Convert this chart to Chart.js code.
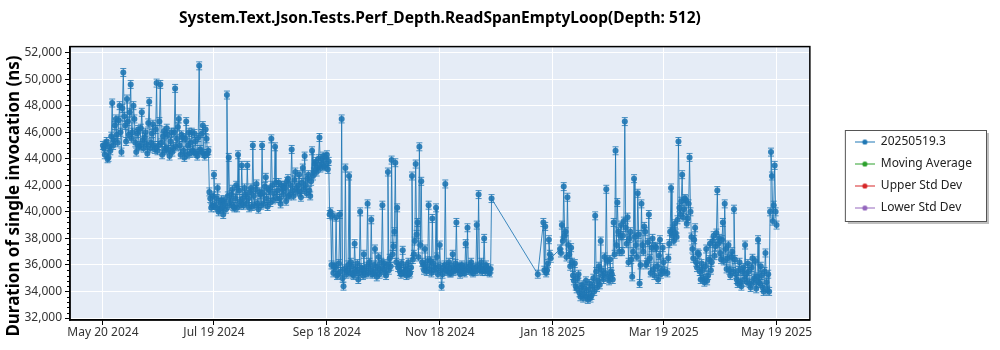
<!DOCTYPE html>
<html>
<head>
<meta charset="utf-8">
<script src="https://cdn.jsdelivr.net/npm/chart.js@4.4.1/dist/chart.umd.min.js"></script>
<style>
  html, body { margin: 0; padding: 0; background: #fff; }
  #wrap { width: 1000px; height: 350px; }
</style>
</head>
<body>
<div id="wrap"><canvas id="chart1"></canvas></div>
<script>
const chartTitle = 'System.Text.Json.Tests.Perf_Depth.ReadSpanEmptyLoop(Depth: 512)';
const yTitle = 'Duration of single invocation (ns)';

// first run of each day, day 0 = May 20 2024 (null = no run that day)
const durations = [
  // day 0
  45000, 44300, 45300, 44100, 44600, 48200, 45400, 47000, 45200, 48000,
  44500, 50500, 46500, 48500, 45800, 49600, 46000, 47000, 44500, 46200,
  45000, 47500, 44800, 46000, 44400, 48300, 45200, 46600, 44700, 49700,
  45000, 49600, 44300, 46100, 44800, 45800, 44200, 46000, 44800, 49300,
  45500, 47000, 44300, 45600, 44100, 46800, 45000, 44400, 46000, 44500,
  // day 50
  45300, 44200, 51000, 44500, 46500, 44200, 45500, 44600, 41000, 40500,
  42800, 40300, 41800, 40200, 40900, 39800, 40600, 48800, 44100, 40800,
  41700, 40300, 42000, 44300, 40800, 43500, 40500, 41300, 43500, 40300,
  41800, 45000, 40500, 42100, 40200, 41300, 45000, 40600, 42600, 40400,
  41600, 45500, 40900, 44900, 41000, 42200, 40600, 41700, 42000, 40800,
  // day 100
  42500, 41300, 44700, 41200, 43000, 41500, 42800, 41100, 43300, 44200,
  41400, 42800, 41200, 44600, 43000, 43800, 43300, 45600, 43600, 44200,
  43500, 44300, 43800, 40000, 39700, 35900, 39600, 35300, 39800, 47000,
  34400, 43300, 35600, 42700, 36200, 35300, 37600, 35500, 34900, 40000,
  35600, 36800, 35300, 40600, 36200, 39400, 35400, 37200, 35100, 36600,
  // day 150
  35600, 40500, 36100, 35200, 43000, 36500, 43900, 37400, 43700, 40300,
  36000, 35300, 37100, 35500, 35200, 36200, 35400, 42700, 36800, 43600,
  39200, 44900, 42300, 36000, 37200, 35500, 40500, 36300, 39500, 35600,
  40300, 35300, 37500, 34400, 35800, 42100, 35500, 36200, 35400, 36800,
  35700, 39200, 35800, 35300, 36000, 35500, 37600, 38800, 35600, 36200,
  // day 200
  35400, 35700, 39000, 41300, 35800, 35500, 38000, 36000, 35600, 35400,
  41000, null, null, null, null, null, null, null, null, null,
  null, null, null, null, null, null, null, null, null, null,
  null, null, null, null, null, 35300, null, null, 39200, 38900,
  35600, 37900, 36500, null, null, null, null, 37200, 39000, 41900,
  // day 250
  38500, 41100, 36800, 37300, 35200, 36100, 34200, 35300, 33600, 34500,
  33800, 34800, 33400, 34600, 33700, 35000, 39700, 34300, 35900, 37800,
  35200, 36600, 41700, 35100, 36400, 35300, 39200, 44600, 40700, 37000,
  39000, 38200, 46800, 37600, 36200, 38500, 35100, 42500, 37500, 41400,
  34600, 40600, 37000, 38500, 36200, 39800, 35400, 38000, 35200, 37300,
  // day 300
  34900, 37900, 35600, 36200, null, 35400, 37600, 41800, 38700, 39100,
  38100, 45300, 39800, 42800, 40200, 40900, 39500, 44100, 38100, 36500,
  38800, 35800, 36800, 34900, 35600, 34700, 37200, 35200, 37600, 36200,
  38200, 37400, 41600, 38000, 36400, 39200, 40600, 35700, 37500, 35200,
  37000, 40200, 35300, 34600, 36200, 34400, 35800, 37500, 34700, 35500,
  // day 350
  34300, 36500, 35000, 34200, 37900, 34600, 35200, 34000, 36900, 34100,
  34000, 44500, 39300, 43500, 39000
];

// second run of each day (half a day later)
const secondRuns = [
  // day 0
  44800, 45100, 44000, 44900, 45700, 45000, 46500, 45800, 46900, 46000,
  47800, 47200, 45300, 46800, 47500, 45500, 48000, 45200, 45900, 44900,
  46300, 45400, 45600, 45100, 46700, 44800, 45900, 45000, 46200, 44600,
  46800, 45200, 45700, 44600, 46300, 44700, 45300, 44500, 46000, 44900,
  46400, 45000, 45800, 44600, 45500, 44300, 46000, 45200, 44600, 45900,
  // day 50
  44400, 45600, 44700, 45900, 44400, 46200, 44400, 41500, 40300, 41200,
  40500, 41000, 40000, 40700, 40300, 40900, 40200, 41200, 40500, 41300,
  40400, 41000, 40300, 41600, 40500, 41000, 41800, 40600, 41000, 41500,
  40400, 41200, 41700, 40600, 41500, 40500, 41400, 41900, 41000, 41700,
  40700, 42000, 41400, 42200, 41600, 41000, 42000, 41300, 41800, 42300,
  // day 100
  41200, 42000, 41600, 42400, 41800, 42000, 41500, 42200, 41700, 42000,
  42500, 41600, 42300, 42700, 43600, 43000, 44000, 43300, 44000, 43400,
  44100, 43200, 39800, 36000, 35400, 35800, 35200, 36100, 35500, 35000,
  35700, 35300, 36000, 35400, 35900, 35200, 35700, 36100, 35400, 35800,
  35200, 35600, 35900, 35400, 35700, 35300, 36000, 35500, 35900, 35300,
  // day 150
  36200, 35700, 35400, 36000, 35600, 35900, 36800, 38500, 36200, 35800,
  35500, 36100, 35400, 35900, 35600, 35300, 35800, 36400, 37800, 38300,
  36600, 37500, 36200, 35600, 35900, 36300, 35700, 35400, 36100, 35800,
  36600, 35900, 35600, 35300, 36000, 35600, 35900, 35400, 35800, 35500,
  36100, 35600, 35900, 35500, 35800, 35400, 35900, 35600, 36000, 35500,
  // day 200
  35800, 35500, 35900, 35600, 36200, 35700, 35500, 35800, 35500, 35700,
  null, null, null, null, null, null, null, null, null, null,
  null, null, null, null, null, null, null, null, null, null,
  null, null, null, null, null, null, null, null, 35600, 35400,
  36100, 36800, null, null, null, null, null, 36900, 37800, 38200,
  // day 250
  36600, 37500, 35900, 36200, 34800, 34400, 35000, 33900, 34300, 33500,
  34200, 33600, 34100, 33500, 34400, 34000, 35500, 34800, 34500, 35600,
  34900, 35400, 36300, 34800, 35500, 34900, 36800, 37500, 38500, 38200,
  37000, 39300, 38800, 39600, 38000, 36400, 37000, 38100, 36600, 38300,
  36000, 37500, 38900, 36000, 37700, 36500, 37300, 35700, 37400, 35900,
  // day 300
  36700, 35300, 37300, 35500, null, 36500, 38500, 38200, 37800, 38400,
  39400, 40300, 40800, 39600, 41000, 39100, 40600, 40000, 37200, 37900,
  36200, 36900, 35500, 36100, 35000, 35900, 34800, 36400, 35600, 37800,
  36700, 38400, 37600, 36900, 37900, 36300, 37200, 36500, 35600, 36600,
  35500, 36400, 34900, 35600, 34700, 35500, 34900, 35300, 36100, 34600,
  // day 350
  35800, 34700, 36300, 35100, 34700, 35900, 34300, 35500, 34700, 35300,
  40000, 42700, 40500, 40000, null
];

const seriesNames = ['20250519.3', 'Moving Average', 'Upper Std Dev', 'Lower Std Dev'];
const seriesColors = ['#1f77b4', '#2ca02c', '#d62728', '#9467bd'];

const xTickDays = [0, 60, 121, 182, 243, 303, 364];
const xTickLabels = ['May 20 2024', 'Jul 19 2024', 'Sep 18 2024', 'Nov 18 2024', 'Jan 18 2025', 'Mar 19 2025', 'May 19 2025'];
const yTickValues = [32000, 34000, 36000, 38000, 40000, 42000, 44000, 46000, 48000, 50000, 52000];

const errHalf = 300;
const FONT = "'Noto Sans', 'Open Sans', sans-serif";

const points = [];
durations.forEach((v, i) => {
  points.push({ x: i, y: v });
  points.push({ x: i + 0.5, y: secondRuns[i] });
});

// small line-with-dot icons for the legend
function legendIcon(color) {
  const c = document.createElement('canvas');
  c.width = 20;
  c.height = 7;
  const g = c.getContext('2d');
  g.strokeStyle = color;
  g.lineWidth = 1;
  g.beginPath();
  g.moveTo(0, 3.5);
  g.lineTo(20, 3.5);
  g.stroke();
  g.fillStyle = color;
  g.beginPath();
  g.arc(10, 3.5, 2.6, 0, Math.PI * 2);
  g.fill();
  return c;
}
const icons = seriesColors.map(legendIcon);

const plotFrame = {
  id: 'plotFrame',
  beforeDraw(chart) {
    const { ctx, chartArea: a } = chart;
    ctx.save();
    ctx.fillStyle = '#e5ecf6';
    ctx.fillRect(a.left, a.top, a.right - a.left, a.bottom - a.top);

    // legend frame
    const boxes = chart.legend.legendHitBoxes;
    if (boxes && boxes.length) {
      const l = Math.min(...boxes.map(b => b.left)) - 10;
      const r = Math.max(...boxes.map(b => b.left + b.width)) + 14;
      const t = boxes[0].top - 6;
      const b = boxes[boxes.length - 1].top + boxes[boxes.length - 1].height + 7;
      ctx.fillStyle = 'rgba(0,0,0,0.25)';
      ctx.fillRect(l + 3, t + 3, r - l, b - t);
      ctx.fillStyle = '#fff';
      ctx.fillRect(l, t, r - l, b - t);
      ctx.strokeStyle = '#555';
      ctx.lineWidth = 1;
      ctx.strokeRect(l + 0.5, t + 0.5, r - l, b - t);
    }
    ctx.restore();
  },
  beforeDatasetsDraw(chart) {
    const { ctx, chartArea: a } = chart;
    const y = chart.scales.y;
    const meta = chart.getDatasetMeta(0);
    ctx.save();
    ctx.beginPath();
    ctx.rect(a.left, a.top, a.right - a.left, a.bottom - a.top);
    ctx.clip();
    ctx.strokeStyle = 'rgba(31,119,180,0.8)';
    ctx.lineWidth = 1;
    meta.data.forEach((pt, i) => {
      const v = points[i].y;
      if (v == null) return;
      const top = y.getPixelForValue(v + errHalf);
      const bot = y.getPixelForValue(v - errHalf);
      ctx.beginPath();
      ctx.moveTo(pt.x, top);
      ctx.lineTo(pt.x, bot);
      ctx.moveTo(pt.x - 3, top);
      ctx.lineTo(pt.x + 3, top);
      ctx.moveTo(pt.x - 3, bot);
      ctx.lineTo(pt.x + 3, bot);
      ctx.stroke();
    });
    ctx.restore();
  },
  afterDraw(chart) {
    const { ctx, chartArea: a } = chart;
    const y = chart.scales.y;
    ctx.save();
    ctx.strokeStyle = '#000';
    ctx.lineWidth = 1.5;
    ctx.strokeRect(a.left, a.top, a.right - a.left, a.bottom - a.top);
    // minor ticks on the value axis
    ctx.lineWidth = 1;
    ctx.beginPath();
    for (let v = 32400; v < 52000; v += 400) {
      if (v % 2000 === 0) continue;
      const py = Math.round(y.getPixelForValue(v)) + 0.5;
      ctx.moveTo(a.left - 3, py);
      ctx.lineTo(a.left, py);
    }
    ctx.stroke();
    // value axis title, sits a little below the plot centre like the original
    ctx.translate(14, 196);
    ctx.rotate(-Math.PI / 2);
    ctx.fillStyle = '#000';
    ctx.font = "bold 17px " + FONT;
    ctx.textAlign = 'center';
    ctx.textBaseline = 'middle';
    ctx.fillText(yTitle, 0, 0);
    ctx.restore();
  }
};

new Chart(
  document.getElementById('chart1'),
  {
    type: 'line',
    data: {
      datasets: [
        {
          label: seriesNames[0],
          data: points,
          borderColor: 'rgba(31,119,180,0.85)',
          backgroundColor: 'rgba(31,119,180,0.9)',
          borderWidth: 1,
          pointRadius: 3,
          pointBorderWidth: 0,
          spanGaps: true,
          tension: 0,
        },
        { label: seriesNames[1], data: [], borderColor: seriesColors[1], backgroundColor: seriesColors[1] },
        { label: seriesNames[2], data: [], borderColor: seriesColors[2], backgroundColor: seriesColors[2] },
        { label: seriesNames[3], data: [], borderColor: seriesColors[3], backgroundColor: seriesColors[3] },
      ]
    },
    options: {
      animation: false,
      responsive: true,
      maintainAspectRatio: false,
      layout: { padding: { left: 0, right: 18, top: 0, bottom: 0 } },
      plugins: {
        title: {
          display: true,
          text: chartTitle,
          fullSize: false,
          color: '#000',
          font: { family: FONT, size: 15.5, weight: 'bold' },
          padding: { top: 9, bottom: 19 },
        },
        legend: {
          position: 'right',
          align: 'center',
          labels: {
            usePointStyle: true,
            pointStyleWidth: 20,
            padding: 10,
            color: '#222',
            font: { family: FONT, size: 12 },
            generateLabels: (chart) => chart.data.datasets.map((ds, i) => ({
              text: ds.label,
              pointStyle: icons[i],
              fillStyle: seriesColors[i],
              strokeStyle: seriesColors[i],
              lineWidth: 0,
              hidden: false,
              datasetIndex: i,
              fontColor: '#222',
            })),
          },
        },
        tooltip: { enabled: false },
      },
      scales: {
        x: {
          type: 'linear',
          min: -17.8,
          max: 382,
          afterBuildTicks: (s) => { s.ticks = xTickDays.map(v => ({ value: v })); },
          afterFit: (s) => { s.height = 30; },
          ticks: {
            autoSkip: false,
            maxRotation: 0,
            padding: 0,
            color: '#333',
            font: { family: FONT, size: 12 },
            callback: (v) => xTickLabels[xTickDays.indexOf(v)],
          },
          grid: { color: '#fff', tickColor: '#000', tickLength: 5, lineWidth: 1 },
          border: { color: '#000', width: 1.5 },
        },
        y: {
          min: 31850,
          max: 52450,
          afterBuildTicks: (s) => { s.ticks = yTickValues.map(v => ({ value: v })); },
          afterFit: (s) => { s.width = 70; },
          ticks: {
            padding: 3,
            color: '#333',
            font: { family: FONT, size: 12 },
            callback: (v) => v.toLocaleString('en-US'),
          },
          grid: { color: '#fff', tickColor: '#000', tickLength: 5, lineWidth: 1 },
          border: { color: '#000', width: 1.5 },
        },
        gap: {
          type: 'linear',
          axis: 'y',
          position: 'right',
          display: true,
          grid: { display: false },
          ticks: { display: false },
          border: { display: false },
          afterFit: (s) => { s.width = 35; },
        },
      }
    },
    plugins: [plotFrame]
  }
);
</script>
</body>
</html>
